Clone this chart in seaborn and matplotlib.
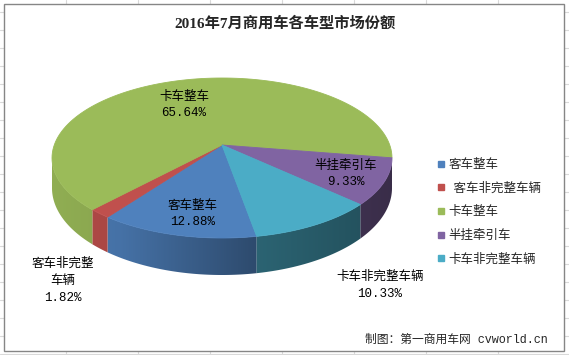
import numpy as np
import matplotlib
matplotlib.use("Agg")
import matplotlib.pyplot as plt
import matplotlib.colors as mcolors
from matplotlib.patches import Rectangle, Polygon
from matplotlib.lines import Line2D
import seaborn as sns

# style first, then the font list (set_theme resets font.family)
sns.set_theme(style="white")
plt.rcParams['font.family'] = ['Noto Sans CJK SC', 'DejaVu Sans']

# data
title = '2016年7月商用车各车型市场份额'
names = ['客车整车', '客车非完整车辆', '卡车整车', '半挂牵引车', '卡车非完整车辆']
pie_names = ['客车整车', '客车非完整\n车辆', '卡车整车', '半挂牵引车', '卡车非完整车辆']
legend_names = ['客车整车', '  客车非完整车辆', '卡车整车', '半挂牵引车', '卡车非完整车辆']
shares = [12.88, 1.82, 65.64, 9.33, 10.33]
colors = ['#4f81bd', '#c0504d', '#9bbb59', '#8064a2', '#4bacc6']
footer = '制图：第一商用车网 cvworld.cn'

W, H = 569, 355
fig = plt.figure(figsize=(W / 100, H / 100), dpi=100)
fig.patch.set_facecolor('white')


def fx(x):
    return x / W


def fy(y):
    return 1 - y / H


# excel sheet grid behind the chart box
for gx in np.arange(66, W, 72):
    fig.add_artist(Line2D([fx(gx)] * 2, [0, 1], color='#d9d9d9', lw=0.8, zorder=-3))
for gy in np.arange(12, H, 18):
    fig.add_artist(Line2D([0, 1], [fy(gy)] * 2, color='#d9d9d9', lw=0.8, zorder=-3))
fig.add_artist(Rectangle((fx(4), fy(351)), fx(564) - fx(4), fy(4) - fy(351),
                         facecolor='white', edgecolor='#868686', lw=1.0, zorder=-2))

# pie axes: unit circle squashed into an ellipse by the axes scale
cx, cy, rx, ry = 222, 158, 170, 80
apex_k = 13 / ry            # perspective: centre of the disc seen above ellipse centre
d_side, d_front = 30 / ry, 37 / ry
startangle = 280

ax = fig.add_axes([0, 0, 1, 1])

# projective warp of the circle (moves the centre up to apex_k)
p = apex_k / (1 + np.sqrt(1 - apex_k ** 2))
a = 1j * p


def warp(phi_deg):
    z = np.exp(1j * np.radians(phi_deg))
    w = (z + a) / (1 + np.conj(a) * z)
    return np.degrees(np.angle(w)) % 360


total = sum(shares)
bounds = startangle - 360 * np.concatenate([[0], np.cumsum(shares)]) / total

xs = np.linspace(-1, 1, 300)
fac = np.interp(xs, [-1, -0.6, 0.2, 1], [0.93, 0.88, 0.58, 0.45])

for i, c in enumerate(colors):
    phi = np.linspace(bounds[i], bounds[i + 1], 120)
    psi = np.radians(warp(phi))
    pts = np.column_stack([np.cos(psi), np.sin(psi)])
    top = Polygon(np.vstack([[0, apex_k], pts]), closed=True, facecolor=c,
                  edgecolor=c, lw=0.6, zorder=3)
    ax.add_patch(top)

    # side wall: visible front part of this slice
    ps = warp(bounds[i])
    pe = ps - ((ps - warp(bounds[i + 1])) % 360)
    for off in (0, 360, -360):
        lo, hi = max(pe + off, 180), min(ps + off, 360)
        if lo >= hi:
            continue
        t = np.radians(np.linspace(lo, hi, 80))
        dep = d_side + (d_front - d_side) * (-np.sin(t))
        upper = np.column_stack([np.cos(t), np.sin(t)])
        lower = np.column_stack([np.cos(t), np.sin(t) - dep])[::-1]
        poly = Polygon(np.vstack([upper, lower]), closed=True, facecolor='none',
                       edgecolor='none', transform=ax.transData)
        ax.add_patch(poly)
        rgb = np.array(mcolors.to_rgb(c))
        img = (fac[:, None] * rgb[None, :])[None, :, :]
        im = ax.imshow(img, extent=(-1, 1, -1 - d_front, 0), aspect='auto',
                       zorder=1, interpolation='bilinear')
        im.set_clip_path(poly)

ax.set_aspect('auto')
ax.set_xlim(-cx / rx, (W - cx) / rx)
ax.set_ylim((cy - H) / ry, cy / ry)
ax.axis('off')

# data labels
label_px = [(193, 214), (63, 281), (184, 105), (346, 174), (380, 285)]
for (px, py), n, s in zip(label_px, pie_names, shares):
    fig.text(fx(px), fy(py), f'{n}\n{s:.2f}%', ha='center', va='center',
             fontsize=9, linespacing=1.55, color='black',
             family=['Liberation Mono', 'Noto Sans CJK SC'])

# legend
handles = [Line2D([], [], marker='s', linestyle='', color=c, markersize=5) for c in colors]
fig.legend(handles, legend_names, loc='upper left', bbox_to_anchor=(fx(437), fy(158)),
           frameon=False, fontsize=9, handlelength=0.6, handletextpad=0.3,
           labelspacing=0.85, borderpad=0, borderaxespad=0)

fig.text(fx(285), fy(23), title, ha='center', va='center', fontsize=11, fontweight='bold',
         family=['Liberation Serif', 'Noto Sans CJK SC'])
fig.text(fx(548), fy(340), footer, ha='right', va='center', fontsize=8.5,
         family=['Liberation Mono', 'Noto Sans CJK SC'])

fig.savefig('out.png', dpi=100)
